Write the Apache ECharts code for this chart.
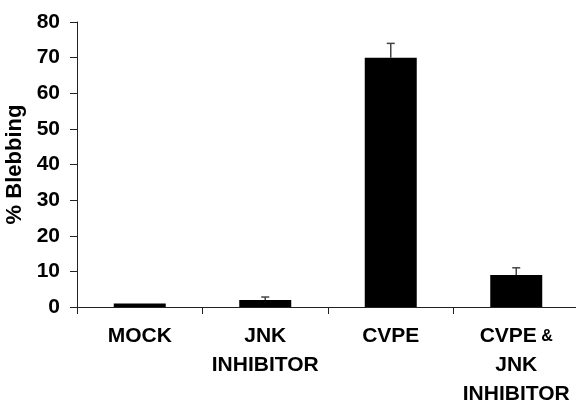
<!DOCTYPE html>
<html><head><meta charset="utf-8">
<script src="https://cdn.jsdelivr.net/npm/echarts@6/dist/echarts.min.js"></script>
<style>html,body{margin:0;padding:0;background:#fff}#c{width:576px;height:403px}</style>
</head><body><div id="c"></div>
<script>
var categories = ['MOCK', 'JNK\nINHIBITOR', 'CVPE', 'CVPE &\nJNK\nINHIBITOR'];
var values = [1, 2, 70, 9];
var errors = [0, 0.8, 4, 2];
var yTicks = [0, 10, 20, 30, 40, 50, 60, 70, 80];

var chart = echarts.init(document.getElementById('c'));
var font = 'Liberation Sans, Arial, sans-serif';
chart.setOption({
  animation: false,
  backgroundColor: '#fff',
  grid: {left: 77, right: -3, top: 22, bottom: 96, containLabel: false, outerBoundsMode: 'none'},
  xAxis: {
    type: 'category',
    data: categories,
    axisLine: {lineStyle: {color: '#222', width: 1}},
    axisTick: {show: true, length: 7, lineStyle: {color: '#222'}},
    axisLabel: {
      interval: 0, margin: 15, color: '#000', fontFamily: font, fontWeight: 'bold', fontSize: 21, lineHeight: 29,
      formatter: function (v) {
        if (v.indexOf('&') >= 0) {
          var parts = v.split('\n');
          return '{a|' + parts[0].replace(' &', '') + '}{s| &}\n' + parts.slice(1).join('\n');
        }
        return v;
      },
      rich: {
        a: {fontFamily: font, fontWeight: 'bold', fontSize: 21, color: '#000', lineHeight: 29},
        s: {fontFamily: font, fontWeight: 'bold', fontSize: 16, color: '#000', lineHeight: 29}
      }
    }
  },
  yAxis: {
    type: 'value', min: yTicks[0], max: yTicks[yTicks.length - 1], interval: yTicks[1] - yTicks[0],
    name: '% Blebbing', nameLocation: 'middle', nameGap: 42,
    nameTextStyle: {fontFamily: font, fontWeight: 'bold', fontSize: 22, color: '#000'},
    splitLine: {show: false},
    axisLine: {show: true, lineStyle: {color: '#222', width: 1}},
    axisTick: {show: true, length: 7, lineStyle: {color: '#222'}},
    axisLabel: {margin: 17, color: '#000', fontFamily: font, fontWeight: 'bold', fontSize: 21}
  },
  series: [{
    type: 'bar', data: values, barWidth: 52,
    itemStyle: {color: '#000'}
  }, {
    type: 'custom',
    data: values.map(function (v, i) { return [i, v, v + errors[i]]; }),
    renderItem: function (params, api) {
      var i = api.value(0);
      var base = api.coord([i, api.value(1)]);
      var top = api.coord([i, api.value(2)]);
      if (api.value(2) <= api.value(1)) return null;
      return {type: 'group', children: [
        {type: 'line', shape: {x1: top[0], y1: base[1], x2: top[0], y2: top[1]}, style: {stroke: '#444', lineWidth: 1.5}},
        {type: 'line', shape: {x1: top[0] - 4, y1: top[1], x2: top[0] + 4, y2: top[1]}, style: {stroke: '#444', lineWidth: 1.5}}
      ]};
    },
    z: 10
  }]
});
</script></body></html>
